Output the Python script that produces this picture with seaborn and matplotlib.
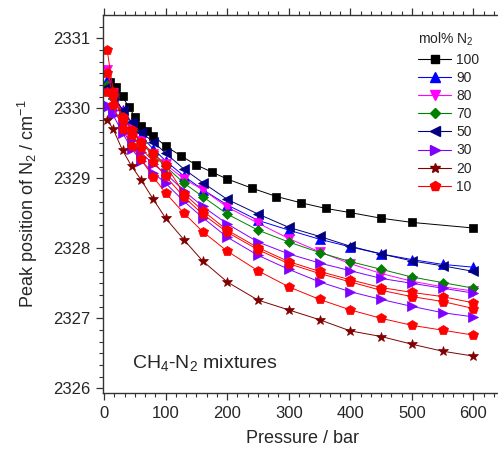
import matplotlib
matplotlib.use("Agg")
import matplotlib.pyplot as plt
from matplotlib.ticker import MultipleLocator, AutoMinorLocator
from matplotlib.lines import Line2D
import seaborn as sns
import pandas as pd

# Pressure grids (bar)
p_pure = [10, 20, 30, 40, 50, 60, 70, 80, 100, 125, 150, 175, 200, 240, 280,
          320, 360, 400, 450, 500, 600]
p_mix = [5, 15, 30, 45, 60, 80, 100, 130, 160, 200, 250, 300, 350, 400, 450,
         500, 550, 600]

# Peak position of the N2 stretching band (cm-1)
n2_100 = [2330.38, 2330.30, 2330.17, 2330.02, 2329.88, 2329.75, 2329.67, 2329.61,
          2329.46, 2329.32, 2329.19, 2329.09, 2328.99, 2328.86, 2328.74, 2328.65,
          2328.57, 2328.51, 2328.43, 2328.37, 2328.29]
n2_90 = [2330.40, 2330.20, 2329.97, 2329.77, 2329.60, 2329.42, 2329.25, 2329.03,
         2328.84, 2328.62, 2328.40, 2328.26, 2328.13, 2328.02, 2327.92, 2327.84,
         2327.77, 2327.73]
n2_80 = [2330.55, 2330.22, 2329.95, 2329.72, 2329.53, 2329.35, 2329.20, 2328.99,
         2328.84, 2328.59, 2328.36, 2328.14, 2327.95, 2327.78, 2327.64, 2327.53,
         2327.45, 2327.39]
n2_70 = [2330.33, 2330.15, 2329.90, 2329.68, 2329.50, 2329.33, 2329.17, 2328.93,
         2328.74, 2328.49, 2328.26, 2328.09, 2327.94, 2327.81, 2327.70, 2327.59,
         2327.51, 2327.43]
n2_50 = [2330.30, 2330.17, 2329.98, 2329.80, 2329.66, 2329.52, 2329.36, 2329.13,
         2328.94, 2328.70, 2328.49, 2328.30, 2328.17, 2328.03, 2327.92, 2327.82,
         2327.75, 2327.67]
n2_30_a = [2330.05, 2329.98, 2329.78, 2329.55, 2329.37, 2329.20, 2329.07, 2328.82,
           2328.60, 2328.35, 2328.09, 2327.92, 2327.79, 2327.68, 2327.57, 2327.50,
           2327.43, 2327.36]
n2_30_b = [2330.02, 2329.90, 2329.65, 2329.42, 2329.25, 2329.08, 2328.93, 2328.67,
           2328.44, 2328.16, 2327.90, 2327.70, 2327.52, 2327.38, 2327.27, 2327.17,
           2327.08, 2327.02]
n2_20 = [2329.84, 2329.70, 2329.40, 2329.17, 2328.98, 2328.70, 2328.43, 2328.12,
         2327.82, 2327.52, 2327.26, 2327.12, 2326.98, 2326.82, 2326.74, 2326.63,
         2326.53, 2326.46]
n2_10_a = [2330.84, 2330.24, 2329.88, 2329.69, 2329.52, 2329.36, 2329.19, 2328.78,
           2328.54, 2328.26, 2328.01, 2327.81, 2327.67, 2327.55, 2327.44, 2327.37,
           2327.31, 2327.22]
n2_10_b = [2330.51, 2330.18, 2329.83, 2329.62, 2329.43, 2329.24, 2329.03, 2328.73,
           2328.49, 2328.23, 2327.98, 2327.78, 2327.64, 2327.52, 2327.40, 2327.31,
           2327.24, 2327.14]
n2_10_c = [2330.24, 2330.05, 2329.70, 2329.46, 2329.27, 2329.02, 2328.79, 2328.50,
           2328.24, 2327.96, 2327.68, 2327.45, 2327.27, 2327.12, 2327.00, 2326.90,
           2326.83, 2326.76]

legend_labels = ["100", "90", "80", "70", "50", "30", "20", "10"]

sns.set_theme(style="ticks")
plt.rcParams["font.family"] = ["Liberation Sans", "DejaVu Sans"]
plt.rcParams["mathtext.default"] = "regular"

fig = plt.figure(figsize=(4.98, 4.51), dpi=100)
ax = fig.add_axes([102.5 / 498, 1 - 393 / 451, (503 - 102.5) / 498, (393 - 15) / 451])

# (label, pressures, values, colour, marker, size)
series = [
    ("100", p_pure, n2_100, "#000000", "s", 5.5),
    ("90", p_mix, n2_90, "#0000ff", "^", 6.5),
    ("80", p_mix, n2_80, "#ff00ff", "v", 6.5),
    ("70", p_mix, n2_70, "#008000", "D", 5.0),
    ("50", p_mix, n2_50, "#000080", "<", 6.5),
    ("30", p_mix, n2_30_a, "#8000ff", ">", 6.5),
    (None, p_mix, n2_30_b, "#8000ff", ">", 6.5),
    ("20", p_mix, n2_20, "#800000", "*", 7.5),
    ("10", p_mix, n2_10_a, "#ff0000", "p", 7.5),
    (None, p_mix, n2_10_b, "#ff0000", "p", 7.5),
    (None, p_mix, n2_10_c, "#ff0000", "p", 7.5),
]

handles = {}
for label, px, vals, col, mk, ms in series:
    df = pd.DataFrame({"p": px, "v": vals})
    sns.lineplot(data=df, x="p", y="v", ax=ax, color=col, marker=mk,
                 markersize=ms, markeredgewidth=0.5, markeredgecolor=col,
                 linewidth=0.7, estimator=None, sort=True, legend=False)
    if label is not None:
        handles[label] = Line2D([], [], color=col, marker=mk, markersize=ms,
                                markeredgecolor=col, linewidth=0.8)

ax.set_xlim(-2.5, 648)
ax.set_ylim(2325.933, 2331.333)
ax.xaxis.set_major_locator(MultipleLocator(100))
ax.xaxis.set_minor_locator(AutoMinorLocator(6))
ax.yaxis.set_major_locator(MultipleLocator(1))
ax.yaxis.set_minor_locator(AutoMinorLocator(6))
ax.tick_params(which="major", direction="out", length=5, width=0.9,
               labelsize=12, pad=4, top=True, color="#333333")
ax.tick_params(which="minor", direction="out", length=3, width=0.8, top=True,
               color="#333333")
ax.tick_params(axis="x", which="both", labeltop=False)
for s in ax.spines.values():
    s.set_linewidth(1.0)
    s.set_color("#333333")
ax.spines["right"].set_visible(False)
ax.tick_params(axis="y", which="both", right=False)

ax.set_xlabel("Pressure / bar", fontsize=13, labelpad=7)
ax.set_ylabel("Peak position of N$_2$ / cm$^{-1}$", fontsize=13, labelpad=9)

ax.text(45, 2326.29, "CH$_4$-N$_2$ mixtures", fontsize=14, ha="left",
        va="baseline")

leg = ax.legend([handles[k] for k in legend_labels], legend_labels,
                title="mol% N$_2$", loc="upper left",
                bbox_to_anchor=(418 / 498, 1 - 31 / 451),
                bbox_transform=fig.transFigure, frameon=False, fontsize=10,
                title_fontsize=10, handlelength=2.4, handletextpad=0.35,
                labelspacing=0.3, borderaxespad=0, borderpad=0)
leg._legend_box.align = "left"

fig.savefig("out.png", dpi=100)
